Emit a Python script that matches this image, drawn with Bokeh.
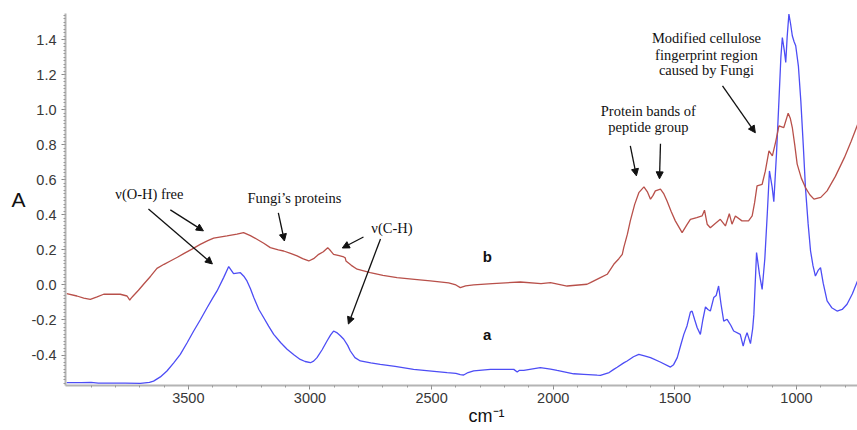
from bokeh.plotting import figure
from bokeh.models import Range1d, FixedTicker, SingleIntervalTicker, PrintfTickFormatter, Label, Arrow, NormalHead
from bokeh.embed import file_html
from bokeh.resources import INLINE

# ---- data (wavenumber cm-1, absorbance) ----
a_wn = [4000, 3940, 3900, 3870, 3760, 3697, 3660, 3643, 3615, 3588, 3560, 3533, 3505, 3478, 3450, 3423,
        3400, 3382, 3355, 3334, 3324, 3314, 3300, 3286, 3272, 3259, 3245, 3231, 3210, 3190, 3170, 3149,
        3120, 3094, 3065, 3040, 3020, 2998, 2985, 2971, 2950, 2930, 2915, 2903, 2890, 2875, 2861, 2845,
        2834, 2815, 2793, 2750, 2711, 2650, 2574, 2500, 2436, 2400, 2382, 2368, 2350, 2327, 2258, 2162,
        2148, 2140, 2121, 2053, 2011, 1984, 1916, 1874, 1819, 1806, 1770, 1751, 1737, 1710, 1696, 1670,
        1648, 1625, 1600, 1560, 1518, 1505, 1490, 1475, 1463, 1450, 1436, 1429, 1418, 1408, 1395, 1385,
        1374, 1364, 1354, 1340, 1330, 1320, 1310, 1299, 1285, 1270, 1258, 1231, 1219, 1210, 1203, 1189,
        1180, 1175, 1164, 1152, 1141, 1130, 1120, 1111, 1100, 1093, 1082, 1072, 1064, 1058, 1050, 1044,
        1038, 1031, 1024, 1017, 1010, 1003, 992, 982, 972, 963, 952, 942, 932, 922, 910, 901,
        890, 874, 855, 833, 812, 792, 770, 749]
a_abs = [-0.558, -0.558, -0.556, -0.560, -0.561, -0.562, -0.556, -0.549, -0.525, -0.491, -0.445, -0.396, -0.330, -0.263, -0.197, -0.130,
         -0.075, -0.034, 0.042, 0.105, 0.085, 0.065, 0.068, 0.070, 0.050, 0.023, -0.020, -0.072, -0.140, -0.187, -0.235, -0.282,
         -0.330, -0.367, -0.400, -0.425, -0.437, -0.444, -0.435, -0.415, -0.370, -0.320, -0.285, -0.263, -0.272, -0.290, -0.310, -0.345,
         -0.377, -0.415, -0.434, -0.445, -0.453, -0.465, -0.482, -0.492, -0.501, -0.505, -0.512, -0.514, -0.500, -0.490, -0.482, -0.482,
         -0.497, -0.488, -0.488, -0.472, -0.480, -0.488, -0.507, -0.510, -0.515, -0.516, -0.500, -0.482, -0.470, -0.445, -0.434, -0.410,
         -0.396, -0.405, -0.415, -0.440, -0.469, -0.455, -0.415, -0.340, -0.282, -0.234, -0.155, -0.149, -0.200, -0.244, -0.282, -0.200,
         -0.125, -0.140, -0.149, -0.072, -0.060, -0.006, -0.110, -0.206, -0.196, -0.230, -0.263, -0.282, -0.349, -0.300, -0.272, -0.335,
         -0.250, -0.168, 0.185, 0.060, -0.025, 0.150, 0.404, 0.651, 0.560, 0.475, 0.750, 1.051, 1.300, 1.413, 1.340, 1.270,
         1.420, 1.547, 1.490, 1.423, 1.390, 1.366, 1.250, 1.051, 0.800, 0.556, 0.350, 0.194, 0.110, 0.051, 0.085, 0.099,
         0.010, -0.091, -0.130, -0.149, -0.140, -0.110, -0.050, 0.023]

b_wn = [4000, 3958, 3930, 3903, 3875, 3848, 3780, 3752, 3744, 3741, 3735, 3727, 3705, 3684, 3655, 3629,
        3600, 3574, 3545, 3519, 3485, 3451, 3420, 3396, 3341, 3300, 3273, 3245, 3218, 3190, 3163, 3130,
        3108, 3080, 3053, 3030, 3005, 2985, 2964, 2945, 2927, 2915, 2903, 2880, 2861, 2855, 2852, 2830,
        2806, 2752, 2700, 2642, 2570, 2505, 2430, 2400, 2382, 2360, 2327, 2250, 2135, 2050, 2011, 1943,
        1861, 1847, 1806, 1778, 1751, 1730, 1716, 1710, 1695, 1683, 1665, 1648, 1627, 1612, 1600, 1590,
        1580, 1559, 1545, 1532, 1515, 1498, 1470, 1450, 1436, 1410, 1388, 1378, 1367, 1354, 1335, 1313,
        1292, 1276, 1265, 1251, 1224, 1197, 1182, 1172, 1162, 1141, 1128, 1113, 1099, 1085, 1072, 1052,
        1034, 1025, 1017, 1007, 997, 980, 963, 945, 928, 900, 874, 840, 803, 775, 748]
b_abs = [-0.050, -0.063, -0.075, -0.082, -0.068, -0.053, -0.053, -0.063, -0.080, -0.087, -0.075, -0.063, -0.030, 0.004, 0.050, 0.095,
         0.118, 0.137, 0.158, 0.179, 0.205, 0.232, 0.253, 0.267, 0.280, 0.290, 0.299, 0.282, 0.261, 0.238, 0.213, 0.200,
         0.194, 0.180, 0.166, 0.150, 0.137, 0.150, 0.175, 0.190, 0.213, 0.195, 0.175, 0.167, 0.160, 0.155, 0.137, 0.112,
         0.090, 0.070, 0.055, 0.042, 0.032, 0.023, 0.012, 0.000, -0.015, -0.005, 0.000, 0.008, 0.017, 0.008, 0.013, -0.006,
         0.004, 0.013, 0.042, 0.061, 0.118, 0.150, 0.175, 0.213, 0.290, 0.366, 0.460, 0.527, 0.560, 0.530, 0.490, 0.510,
         0.537, 0.547, 0.520, 0.480, 0.420, 0.366, 0.299, 0.345, 0.375, 0.385, 0.394, 0.427, 0.347, 0.327, 0.350, 0.375,
         0.337, 0.407, 0.347, 0.394, 0.366, 0.366, 0.394, 0.470, 0.566, 0.575, 0.650, 0.766, 0.737, 0.820, 0.909, 0.899,
         0.981, 0.950, 0.899, 0.800, 0.690, 0.610, 0.556, 0.515, 0.490, 0.500, 0.537, 0.620, 0.727, 0.820, 0.918]

curve_labels = ["a", "b"]
x_major_ticks = [3500, 3000, 2500, 2000, 1500, 1000]
x_minor_ticks = list(range(3900, 799, -100))
y_ticks_interval = 0.2

# annotation texts and anchor positions (wavenumber, absorbance)
notes = [
    ("\u03bd(O-H) free", 3660, 0.52),
    ("Fungi\u2019s proteins", 3064, 0.494),
    ("\u03bd(C-H)", 2663, 0.323),
    ("Protein bands of", 1609, 0.994),
    ("peptide group", 1609, 0.900),
    ("Modified cellulose", 1370, 1.409),
    ("fingerprint region", 1370, 1.314),
    ("caused by Fungi", 1370, 1.226),
]
curve_label_pos = [(2271, -0.283), (2271, 0.160)]
arrows = [
    (3664, 0.434, 3401, 0.120),
    (3574, 0.429, 3438, 0.309),
    (3130, 0.411, 3105, 0.251),
    (2780, 0.274, 2867, 0.211),
    (2710, 0.263, 2842, -0.223),
    (1683, 0.794, 1658, 0.623),
    (1559, 0.806, 1563, 0.606),
    (1304, 1.137, 1169, 0.869),
]

p = figure(width=857, height=430, output_backend="svg", toolbar_location=None,
           x_range=Range1d(4005, 749), y_range=Range1d(-0.574, 1.55),
           min_border_left=65, min_border_right=0, min_border_top=13, min_border_bottom=45)
p.outline_line_color = None
p.xgrid.visible = False
p.ygrid.visible = False
p.background_fill_color = "white"
p.border_fill_color = "white"

p.line(a_wn, a_abs, line_color="#4d4df5", line_width=1.3)
p.line(b_wn, b_abs, line_color="#b8504a", line_width=1.3)

p.xaxis.ticker = FixedTicker(ticks=x_major_ticks, minor_ticks=x_minor_ticks)
p.yaxis.ticker = SingleIntervalTicker(interval=y_ticks_interval, num_minor_ticks=10)
p.yaxis.formatter = PrintfTickFormatter(format="%.1f")
for ax in (p.xaxis[0], p.yaxis[0]):
    ax.axis_line_color = "#b4b4b4"
    ax.axis_line_width = 2
    ax.major_tick_line_color = "#888888"
    ax.minor_tick_line_color = "#999999"
    ax.major_tick_in = 0
    ax.major_tick_out = 4
    ax.minor_tick_in = 0
    ax.minor_tick_out = 2
    ax.major_label_text_font = "Liberation Sans"
    ax.major_label_text_font_size = "14.5px"
    ax.major_label_text_color = "#383838"
p.xaxis.major_label_standoff = 3
p.yaxis.major_label_standoff = 5

p.yaxis.axis_label = "A"
p.yaxis.axis_label_orientation = "horizontal"
p.yaxis.axis_label_text_font = "Liberation Sans"
p.yaxis.axis_label_text_font_style = "normal"
p.yaxis.axis_label_text_font_size = "21px"
p.yaxis.axis_label_text_color = "#111111"
p.yaxis.axis_label_standoff = 3

p.xaxis.axis_label = "\u00a0" * 10 + "cm\u207b\u00b9"
p.xaxis.axis_label_text_font = "Liberation Sans"
p.xaxis.axis_label_text_font_style = "normal"
p.xaxis.axis_label_text_font_size = "18px"
p.xaxis.axis_label_text_color = "#111111"
p.xaxis.axis_label_standoff = 0

for t, x, y in notes:
    p.add_layout(Label(x=x, y=y, text=t, text_align="center", text_baseline="middle",
                       text_font="Liberation Serif", text_font_size="14.5px", text_color="#111111"))
for t, (x, y) in zip(curve_labels, curve_label_pos):
    p.add_layout(Label(x=x, y=y, text=t, text_align="center", text_baseline="middle",
                       text_font="Liberation Sans", text_font_style="bold", text_font_size="15px",
                       text_color="#111111"))
for x0, y0, x1, y1 in arrows:
    p.add_layout(Arrow(end=NormalHead(size=7, fill_color="#111111", line_color="#111111"),
                       x_start=x0, y_start=y0, x_end=x1, y_end=y1,
                       line_color="#111111", line_width=1.3))

open("out.html", "w").write(file_html(p, INLINE))
